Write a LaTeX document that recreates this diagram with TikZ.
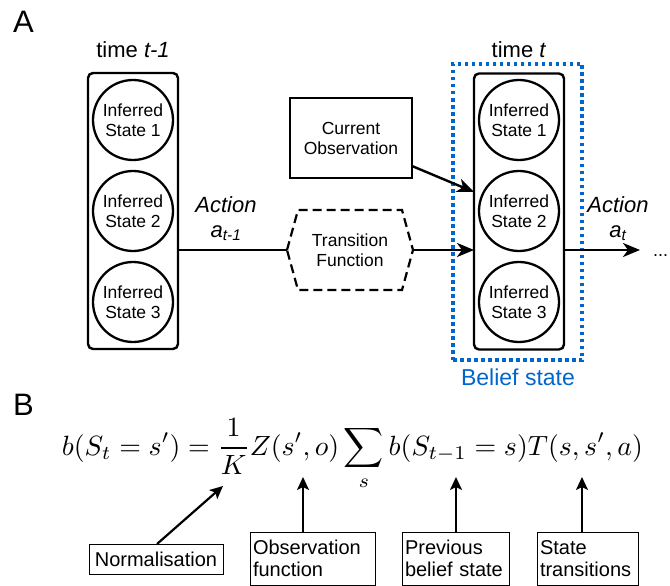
\documentclass[tikz,border=0pt]{standalone}
\usepackage{fontspec}
\usepackage{graphicx}
\setmainfont{Liberation Sans}
\usetikzlibrary{arrows.meta}
\definecolor{beliefblue}{RGB}{0,102,204}
\begin{document}
\begin{tikzpicture}[x=1pt,y=-1pt,
  every node/.style={inner sep=0pt, outer sep=0pt},
  col/.style={draw, line width=2.4pt, rounded corners=5pt, minimum width=90pt, minimum height=276pt},
  st/.style={draw, circle, line width=2.3pt, minimum size=80pt, align=center, font=\fontsize{17.5}{20}\selectfont},
  lab/.style={font=\fontsize{22}{24}\selectfont},
  txt/.style={align=center, font=\fontsize{17.5}{20}\selectfont},
  arr/.style={line width=2.4pt, -{Stealth[length=17pt,width=14pt,inset=5pt]}},
  plain/.style={line width=2.4pt},
  smallarr/.style={line width=2.2pt, -{Stealth[length=13pt,width=12pt,inset=3pt]}},
  bbox/.style={draw, line width=1pt, align=left, inner sep=3pt, font=\fontsize{20}{22}\selectfont, anchor=north west},
  panel/.style={font=\fontsize{31}{31}\selectfont, anchor=base west}
]
\useasboundingbox (0,0) rectangle (670,586);

% Panel A
\node[panel] (A) at (13,33) {A};

% time t-1 column
\node[lab] (timeL) at (133,50) {time \textit{t-1}};
\node[col] (colL) at (133,211) {};
\node[st] (L1) at (133,120) {Inferred\\State 1};
\node[st] (L2) at (133,211) {Inferred\\State 2};
\node[st] (L3) at (133,302) {Inferred\\State 3};

% belief state
\node[draw=beliefblue, line width=3.3pt, dash pattern=on 3.5pt off 3.5pt, minimum width=129pt, minimum height=296pt] (belief) at (517.5,212) {};
\node[font=\fontsize{23}{25}\selectfont, text=beliefblue, anchor=base] (beliefl) at (518,385) {Belief state};

% time t column
\node[lab] (timeR) at (519,50) {time \textit{t}};
\node[col] (colR) at (519,211.5) {};
\node[st] (R1) at (519,120) {Inferred\\State 1};
\node[st] (R2) at (519,211) {Inferred\\State 2};
\node[st] (R3) at (519,302) {Inferred\\State 3};

% current observation
\node[draw, line width=2.6pt, minimum width=122pt, minimum height=80pt, txt] (obs) at (351,138) {Current\\Observation};

% transition function hexagon
\coordinate (hexL) at (287,250);
\coordinate (hexR) at (413,250);
\draw[line width=2.2pt, dash pattern=on 9pt off 5pt] (hexL) -- (298,210) -- (402,210) -- (hexR) -- (402,290) -- (298,290) -- cycle;
\node[txt] (hex) at (350,250) {Transition\\Function};

% action labels
\node[lab, anchor=base] (actL) at (226,212) {\textit{Action}};
\node[lab, anchor=base] (aL) at (226,237) {\textit{a\textsubscript{t-1}}};
\node[lab, anchor=base] (actR) at (618,212) {\textit{Action}};
\node[lab, anchor=base] (aR) at (618,237) {\textit{a\textsubscript{t}}};

% connectors
\draw[plain] (colL.east |- hexL) -- (hexL);
\draw[arr] (hexR) -- (colR.west |- hexR);
\draw[arr] ([yshift=-28pt]obs.east) -- ([yshift=19.5pt]colR.west);
\coordinate (next) at (640,250);
\draw[arr] (colR.east |- next) -- (next);
\node[font=\fontsize{18}{20}\selectfont, anchor=base west] (dots) at (653,256) {...};

% Panel B
\node[panel] (B) at (13,415) {B};
\node[anchor=base] (eq) at (352.5,455) {\resizebox{581pt}{!}{$\displaystyle b(S_t = s') = \frac{1}{K} Z(s',o) \sum_s b(S_{t-1} = s) T(s,s',a)$}};

\node[bbox, text width=128pt, minimum height=30pt, align=center] (norm) at (89,544) {Normalisation};
\node[bbox, text width=119pt, minimum height=53pt] (obsf) at (250,532) {Observation\\function};
\node[bbox, text width=101pt, minimum height=53pt] (prev) at (402,532) {Previous\\belief state};
\node[bbox, text width=95pt, minimum height=53pt] (trans) at (537,532) {State\\transitions};

\coordinate (tK) at (223,486);
\coordinate (tZ) at (303,477);
\coordinate (tB) at (456,477);
\coordinate (tT) at (582,477);
\draw[smallarr] ([xshift=1pt]norm.north) -- (tK);
\draw[smallarr] (obsf.north -| tZ) -- (tZ);
\draw[smallarr] (prev.north -| tB) -- (tB);
\draw[smallarr] (trans.north -| tT) -- (tT);
\end{tikzpicture}
\end{document}
